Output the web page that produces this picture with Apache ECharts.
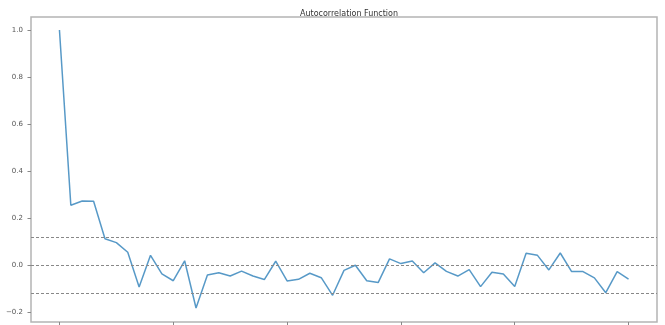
<!DOCTYPE html>
<html>
<head>
<meta charset="utf-8">
<script src="https://cdn.jsdelivr.net/npm/echarts@6/dist/echarts.min.js"></script>
<style>html,body{margin:0;padding:0;background:#fff;}#c{width:665px;height:325px;}</style>
</head>
<body>
<div id="c"></div>
<script>
// Lags 0..50 and autocorrelation values
const lags = [0,1,2,3,4,5,6,7,8,9,10,11,12,13,14,15,16,17,18,19,20,21,22,23,24,25,26,27,28,29,30,31,32,33,34,35,36,37,38,39,40,41,42,43,44,45,46,47,48,49,50];
const acfValues = [1.0,0.254,0.272,0.271,0.112,0.095,0.054,-0.094,0.041,-0.038,-0.067,0.018,-0.183,-0.043,-0.033,-0.047,-0.026,-0.047,-0.062,0.016,-0.068,-0.061,-0.035,-0.054,-0.129,-0.023,-0.001,-0.067,-0.075,0.026,0.006,0.017,-0.033,0.009,-0.027,-0.047,-0.020,-0.092,-0.031,-0.038,-0.092,0.050,0.041,-0.021,0.051,-0.028,-0.028,-0.055,-0.118,-0.028,-0.060];
const confBound = 0.1225;
const refLines = [confBound, 0, -confBound];
const xTicks = [0,10,20,30,40,50];
const yTicks = [-0.2,0.0,0.2,0.4,0.6,0.8,1.0];
const titleText = 'Autocorrelation Function';

const chart = echarts.init(document.getElementById('c'), null, {renderer:'canvas'});
const font = 'DejaVu Sans';
chart.setOption({
  animation:false,
  backgroundColor:'#fff',
  title:{text:titleText, left:344, top:5, textAlign:'center',
    textStyle:{fontFamily:font, fontSize:8, fontWeight:'normal', color:'#333'}},
  grid:{left:31, right:8, top:17, bottom:3, show:true, borderColor:'#b4b4b4', borderWidth:1.5, containLabel:false},
  xAxis:{type:'value', min:-2.5, max:52.5, position:'bottom',
    axisLine:{show:false, onZero:false}, splitLine:{show:false},
    axisTick:{show:true, length:3.5, customValues:xTicks, lineStyle:{color:'#888', width:1}},
    axisLabel:{show:false}},
  yAxis:{type:'value', min:-0.2426, max:1.0553, position:'left',
    axisLine:{show:false, onZero:false}, splitLine:{show:false},
    axisTick:{show:true, length:3.5, customValues:yTicks, lineStyle:{color:'#888', width:1}},
    axisLabel:{show:true, customValues:yTicks, margin:8, fontFamily:font, fontSize:7, color:'#555',
      formatter:function(v){ const s = v.toFixed(1); return s.replace('-', '\u2212'); }}},
  series:[{
    type:'line', data:lags.map((l,i)=>[l, acfValues[i]]), showSymbol:false, symbol:'none',
    lineStyle:{color:'#1f77b4', width:1.5, opacity:0.75},
    z:3,
    markLine:{silent:true, symbol:['none','none'], label:{show:false},
      lineStyle:{color:'#888', type:[3,2], width:1, opacity:1},
      data: refLines.map(v=>({yAxis:v}))}
  }]
});
</script>
</body>
</html>
